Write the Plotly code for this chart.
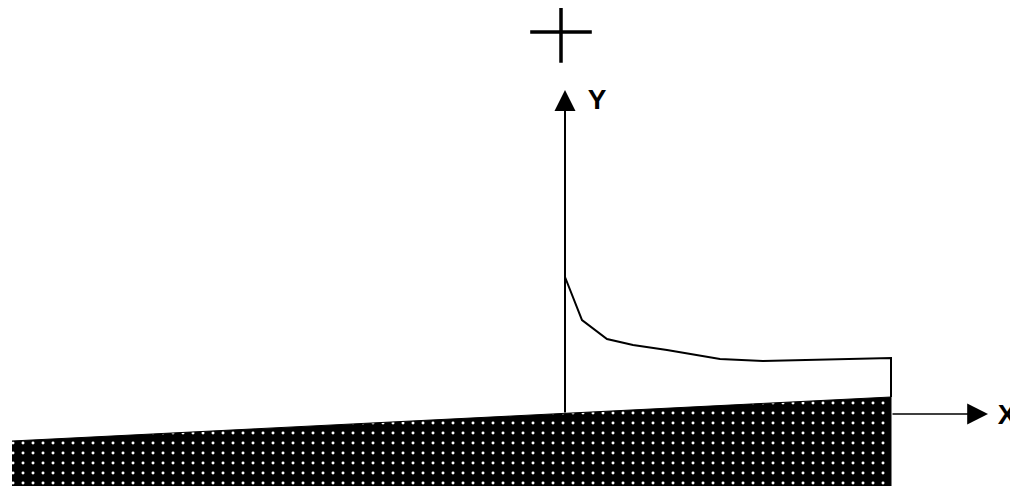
import plotly.graph_objects as go

# Curve above the ground (origin at the axes' intersection)
curve_x = [0, 17, 42, 68, 102, 155, 198, 252, 326, 326]
curve_y = [137, 94, 75, 69, 64, 55, 53, 54, 56, 17]

# Inclined ground region (dotted)
ground_x = [-553, 326, 326, -553]
ground_y = [-27, 17, -72, -72]

# Axes
y_axis_top = 324
x_axis_start = 326
x_axis_end = 423
axis_labels = ["Y", "X"]
label_x = [32, 442]
label_y = [312, -3]
plus_x = [-4]
plus_y = [382]

fig = go.Figure()

fig.add_trace(go.Scatter(
    x=ground_x, y=ground_y, mode="lines", fill="toself",
    line=dict(color="black", width=1),
    fillcolor="black",
    fillpattern=dict(shape=".", bgcolor="black", fgcolor="white",
                     fgopacity=1, size=10, solidity=0.07),
    hoverinfo="skip", showlegend=False))

fig.add_trace(go.Scatter(
    x=curve_x, y=curve_y, mode="lines",
    line=dict(color="black", width=2),
    hoverinfo="skip", showlegend=False))

fig.add_trace(go.Scatter(
    x=plus_x, y=plus_y, mode="markers",
    marker=dict(symbol="cross-thin", size=44, line=dict(color="black", width=3.5)),
    hoverinfo="skip", showlegend=False))

fig.add_trace(go.Scatter(
    x=label_x, y=label_y, mode="text", text=axis_labels, cliponaxis=False,
    textfont=dict(family="Liberation Sans, Arial, sans-serif",
                  size=28, color="black", weight="bold"),
    hoverinfo="skip", showlegend=False))

# Y axis arrow
fig.add_annotation(x=0, y=y_axis_top, ax=0, ay=0, axref="x", ayref="y",
                   xref="x", yref="y", text="", showarrow=True,
                   arrowhead=2, arrowwidth=2, arrowsize=2.1, arrowcolor="black",
                   standoff=0, startstandoff=0)
# X axis arrow
fig.add_annotation(x=x_axis_end, y=0, ax=x_axis_start, ay=0, axref="x", ayref="y",
                   xref="x", yref="y", text="", showarrow=True,
                   arrowhead=2, arrowwidth=1.6, arrowsize=2.6, arrowcolor="black",
                   standoff=0, startstandoff=0)

# The page has an 8px body margin, so the figure is 8px smaller and its ranges shifted.
fig.update_layout(
    width=1010, height=478,
    margin=dict(l=0, r=0, t=0, b=0),
    paper_bgcolor="white", plot_bgcolor="white",
    xaxis=dict(range=[-557, 453], visible=False, fixedrange=True),
    yaxis=dict(range=[-72, 406], visible=False, fixedrange=True),
    showlegend=False,
)

fig.write_html("out.html")
